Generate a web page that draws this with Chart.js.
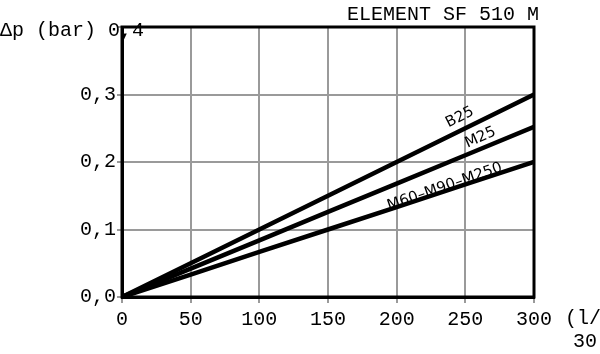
<!DOCTYPE html>
<html>
<head>
<meta charset="utf-8">
<script src="https://cdn.jsdelivr.net/npm/chart.js@4/dist/chart.umd.min.js"></script>
<style>
    html, body { margin: 0; padding: 0; background: #fff; }
    #wrap { width: 600px; height: 354px; position: relative; }
</style>
</head>
<body>
<div id="wrap"><canvas id="sf-chart"></canvas></div>
<script>
(function () {
    'use strict';

    // flow (l/min) and pressure drop (bar)
    var flow = [0, 50, 100, 150, 200, 250, 300];
    var b25 = [0, 0.05, 0.10, 0.15, 0.20, 0.25, 0.30];
    var m25 = [0, 0.042, 0.084, 0.126, 0.168, 0.21, 0.252];
    var m60 = [0, 0.033, 0.067, 0.10, 0.133, 0.167, 0.20];
    var seriesNames = ['B25', 'M25', 'M60\u2013M90\u2013M250'];
    var yTicks = [0, 0.1, 0.2, 0.3, 0.4];

    var MONO = '"Liberation Mono", "Courier New", monospace';

    function pts(ys) {
        return flow.map(function (x, i) { return { x: x, y: ys[i] }; });
    }

    // label anchor [x, y, angle deg] in data units
    var labelPos = [
        [246, 0.266, -27],
        [261, 0.236, -24],
        [235, 0.163, -19]
    ];

    var decor = {
        id: 'decor',
        afterDraw: function (chart) {
            var ctx = chart.ctx;
            var a = chart.chartArea;
            var xs = chart.scales.x, ys = chart.scales.y;
            ctx.save();
            ctx.strokeStyle = '#000';
            ctx.lineWidth = 3;
            ctx.strokeRect(a.left, a.top, a.right - a.left, a.bottom - a.top);

            ctx.fillStyle = '#000';
            ctx.font = '20px ' + MONO;
            ctx.textBaseline = 'middle';
            ctx.textAlign = 'left';
            ctx.fillText('ELEMENT SF 510 M', 347, 15);
            ctx.fillText('\u0394p (bar) 0,4', 0, 31);
            ctx.fillText('(l/m', 565, 319);
            ctx.fillText('30', 573, 342);

            ctx.font = '15px "DejaVu Sans", sans-serif';
            ctx.textAlign = 'center';
            labelPos.forEach(function (p, i) {
                ctx.save();
                ctx.translate(xs.getPixelForValue(p[0]), ys.getPixelForValue(p[1]));
                ctx.rotate(p[2] * Math.PI / 180);
                ctx.fillText(seriesNames[i], 0, 0);
                ctx.restore();
            });
            ctx.restore();
        }
    };

    function lineSet(name, ys) {
        return {
            label: name,
            data: pts(ys),
            showLine: true,
            borderColor: '#000',
            borderWidth: 4.5,
            pointRadius: 0,
            tension: 0
        };
    }

    new Chart(document.getElementById('sf-chart'), {
        type: 'scatter',
        data: {
            datasets: [
                lineSet(seriesNames[0], b25),
                lineSet(seriesNames[1], m25),
                lineSet(seriesNames[2], m60)
            ]
        },
        options: {
            responsive: true,
            maintainAspectRatio: false,
            animation: false,
            layout: { padding: { top: 27, right: 66, left: 0, bottom: 0 } },
            plugins: { legend: { display: false }, tooltip: { enabled: false } },
            scales: {
                x: {
                    type: 'linear',
                    min: 0, max: 300,
                    afterFit: function (s) { s.height = 57; },
                    grid: { color: '#9a9a9a', lineWidth: 2, tickLength: 6 },
                    border: { display: true, color: '#000', width: 3 },
                    ticks: {
                        stepSize: 50,
                        color: '#000',
                        padding: 5,
                        maxRotation: 0,
                        font: { family: MONO, size: 20 }
                    }
                },
                y: {
                    min: 0, max: 0.4,
                    afterFit: function (s) { s.width = 122; },
                    afterBuildTicks: function (s) {
                        s.ticks = yTicks.map(function (v) { return { value: v }; });
                    },
                    grid: { color: '#9a9a9a', lineWidth: 2, tickLength: 5 },
                    border: { display: true, color: '#000', width: 3 },
                    ticks: {
                        color: '#000',
                        padding: 1,
                        font: { family: MONO, size: 20 },
                        callback: function (v) {
                            if (v >= 0.4) { return ''; }
                            return v.toFixed(1).replace('.', ',');
                        }
                    }
                }
            }
        },
        plugins: [decor]
    });
})();
</script>
</body>
</html>
